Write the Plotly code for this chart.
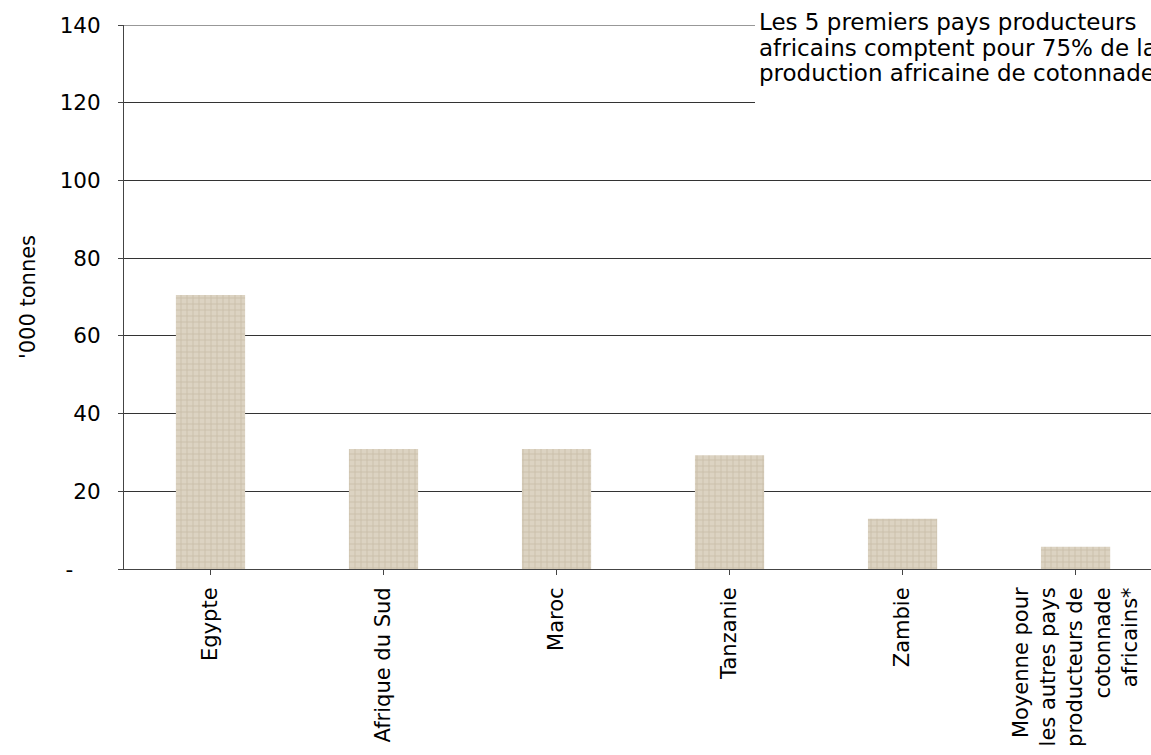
import plotly.graph_objects as go

categories = ["Egypte", "Afrique du Sud", "Maroc", "Tanzanie", "Zambie",
              "Moyenne pour<br>les autres pays<br>producteurs de<br>cotonnade<br>africains*"]
values = [70.5, 30.9, 30.9, 29.3, 12.9, 5.7]
y_ticks = [0, 20, 40, 60, 80, 100, 120, 140]
y_ticktext = ["-\u00a0\u00a0\u00a0\u00a0", "20", "40", "60", "80", "100", "120", "140"]
note_lines = ["Les 5 premiers pays producteurs",
              "africains comptent pour 75% de la",
              "production africaine de cotonnade"]

FONT = "DejaVu Sans"
fig = go.Figure()
fig.add_trace(go.Bar(
    x=list(range(len(categories))), y=values, width=0.4,
    marker=dict(color="#dcd3c2", line=dict(width=0),
                pattern=dict(shape="+", fgcolor="#b9ad95", size=6, solidity=0.3,
                             fillmode="overlay")),
))
fig.update_layout(
    width=1151, height=755,
    margin=dict(l=124, r=0, t=25, b=186, autoexpand=False),
    paper_bgcolor="white", plot_bgcolor="white",
    showlegend=False,
    font=dict(family=FONT, size=21, color="black"),
)
fig.update_xaxes(
    tickmode="array", tickvals=list(range(len(categories))), ticktext=categories,
    range=[-0.5, 5.436], tickangle=-90, ticks="outside", tickson="boundaries",
    ticklen=5, tickcolor="#444", showline=True, linecolor="#444", linewidth=1,
    showgrid=False, zeroline=False, ticklabelstandoff=4, tickfont=dict(size=21),
)
fig.update_yaxes(
    range=[0, 140], tickmode="array", tickvals=y_ticks, ticktext=y_ticktext,
    ticks="outside", ticklen=5, tickcolor="#444", showline=True, linecolor="#444",
    linewidth=1, showgrid=True, gridcolor="#333", gridwidth=1, zeroline=False,
    tickfont=dict(size=21.5),
    title=dict(text="'000 tonnes", standoff=18, font=dict(size=21)),
    ticklabelstandoff=13,
)
# top gridline (at the range edge)
fig.add_shape(type="line", xref="paper", yref="y", x0=0, x1=1, y0=140, y1=140,
              line=dict(color="#333", width=1), layer="below")
fig.add_shape(type="rect", xref="paper", yref="paper", x0=(755 - 124) / 1027, x1=1.0,
              y0=(569 - 112) / 544, y1=1.05, fillcolor="white", line=dict(width=0),
              layer="above")
for i, line in enumerate(note_lines):
    fig.add_annotation(xref="paper", yref="paper", x=(757 - 124) / 1027,
                       y=(569 - (22 + i * 25.5)) / 544, xanchor="left", yanchor="middle",
                       text=line, showarrow=False, font=dict(size=23, family=FONT))
fig.write_html(
    "out.html",
    config={"displayModeBar": False},
    post_script="document.body.style.margin='0';"
                "document.documentElement.style.overflow='hidden';"
                "document.body.style.overflow='hidden';",
)
